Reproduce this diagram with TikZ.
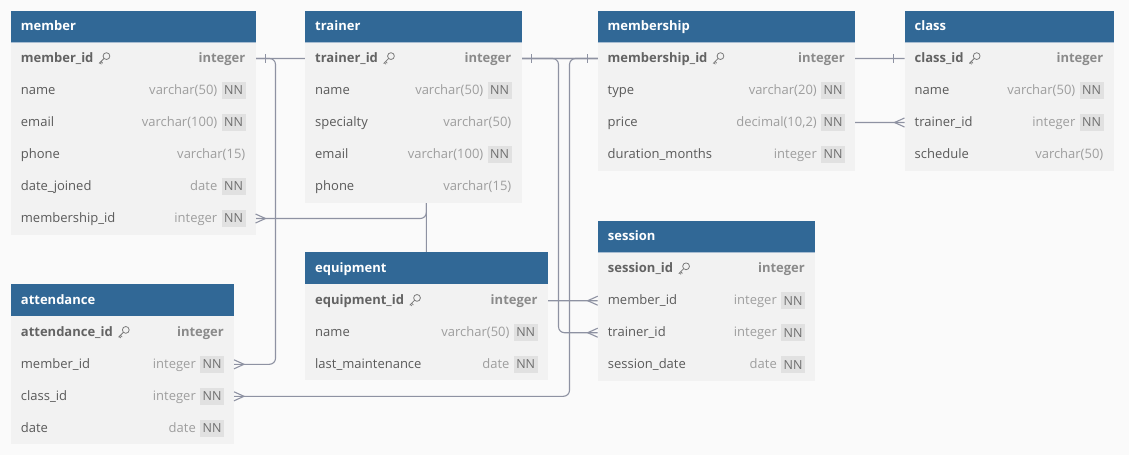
\documentclass[tikz,border=0pt]{standalone}
\usepackage{fontspec}
\setmainfont{Open Sans}
\usetikzlibrary{calc}
\definecolor{bgc}{HTML}{FAFAFA}
\definecolor{hdrc}{HTML}{316896}
\definecolor{hdrline}{HTML}{A8BDD2}
\definecolor{bodyc}{HTML}{F2F2F2}
\definecolor{fieldc}{HTML}{5A5A5A}
\definecolor{pkc}{HTML}{636363}
\definecolor{typec}{HTML}{9E9E9E}
\definecolor{pktypec}{HTML}{8A8A8A}
\definecolor{badgec}{HTML}{E1E1E1}
\definecolor{badgetxt}{HTML}{6E6E6E}
\definecolor{linec}{HTML}{8E92A2}
\definecolor{keyc}{HTML}{7A7A7A}
\pgfdeclarelayer{back}
\pgfdeclarelayer{connlayer}
\pgfsetlayers{back,connlayer,main}
\tikzset{
 hdr/.style={fill=hdrc, minimum height=32pt, inner sep=0pt, outer sep=0pt, rectangle},
 rowbox/.style={fill=bodyc, minimum height=32pt, inner sep=0pt, outer sep=0pt, rectangle},
 hdrtxt/.style={text=white, font=\fontsize{13}{15}\selectfont\bfseries, inner sep=0pt},
 fieldtxt/.style={text=fieldc, font=\fontsize{13}{15}\selectfont, inner sep=0pt},
 pktxt/.style={text=pkc, font=\fontsize{13}{15}\selectfont\bfseries, inner sep=0pt},
 typetxt/.style={text=typec, font=\fontsize{13}{15}\selectfont, inner sep=0pt},
 pktypetxt/.style={text=pktypec, font=\fontsize{13}{15}\selectfont\bfseries, inner sep=0pt},
 badge/.style={fill=badgec, text=badgetxt, minimum width=24pt, minimum height=17pt, inner sep=0pt, font=\fontsize{12.5}{14}\selectfont},
 conn/.style={draw=linec, line width=1.1pt, rounded corners=6pt},
 markstroke/.style={draw=linec, line width=1.1pt},
 keyicon/.style={draw=keyc, line width=0.8pt, line cap=round, line join=round},
}
\newcommand\erhead[5]{%
  \xdef\ertname{#1}\xdef\ertx{#2}\xdef\erty{#3}\xdef\ertw{#4}%
  \node[hdr, minimum width=#4pt, anchor=north west] (#1-h) at (#2,#3) {};
  \draw[hdrline, line width=0.8pt] (#1-h.south west) -- (#1-h.south east);
  \node[hdrtxt, anchor=base west] at ([xshift=10pt,yshift=-3.8pt]#1-h.west) {#5};
}
\newcommand\erkeyat[1]{%
  \begin{scope}[shift={(#1)}]
    \draw[keyicon] (12.8,-2.4) circle[radius=3.4pt];
    \draw[keyicon] (10.4,0.0) -- (5.6,4.8) (7.4,3.0) -- (9.0,4.6) (6.2,4.2) -- (7.6,5.6);
  \end{scope}%
}
\newcommand\errow[5]{% idx, field, type, nn, pk
  \pgfmathsetmacro\erowy{\erty+32+32*(#1-1)}%
  \node[rowbox, minimum width=\ertw pt, anchor=north west] (\ertname-#1) at (\ertx,\erowy) {};
  \ifnum#5=1
    \node[pktxt, anchor=base west] (\ertname-#1-f) at ([xshift=10pt,yshift=-4pt]\ertname-#1.west) {#2};
    \coordinate (\ertname-#1-k) at (\ertname-#1-f.east |- \ertname-#1.center);
    \erkeyat{\ertname-#1-k}
    \node[pktypetxt, anchor=base east] at ([xshift=-10pt,yshift=-4pt]\ertname-#1.east) {#3};
  \else
    \node[fieldtxt, anchor=base west] (\ertname-#1-f) at ([xshift=10pt,yshift=-4pt]\ertname-#1.west) {#2};
    \ifnum#4=1
      \node[badge] (\ertname-#1-nn) at ([xshift=-22pt]\ertname-#1.east) {NN};
      \node[typetxt, anchor=base east] at ([xshift=-38pt,yshift=-4pt]\ertname-#1.east) {#3};
    \else
      \node[typetxt, anchor=base east] at ([xshift=-10pt,yshift=-4pt]\ertname-#1.east) {#3};
    \fi
  \fi
}
\newcommand\erbar[2]{\draw[markstroke] ([xshift=#2*10pt, yshift=4.5pt]#1) -- ([xshift=#2*10pt, yshift=-4.5pt]#1);}
\newcommand\ercrow[2]{\draw[markstroke] ([yshift=4.5pt]#1) -- ([xshift=#2*10pt]#1) -- ([yshift=-4.5pt]#1);}
\begin{document}
\begin{tikzpicture}[x=1pt,y=-1pt]
\useasboundingbox (0,0) rectangle (1129,455);
\begin{pgfonlayer}{back}
\fill[bgc] (0,0) rectangle (1129,455);
\end{pgfonlayer}
% member
\erhead{member}{10.7}{10.5}{244.8}{member}
\errow{1}{member\_id}{integer}{0}{1}
\errow{2}{name}{varchar(50)}{1}{0}
\errow{3}{email}{varchar(100)}{1}{0}
\errow{4}{phone}{varchar(15)}{0}{0}
\errow{5}{date\_joined}{date}{1}{0}
\errow{6}{membership\_id}{integer}{1}{0}
% trainer
\erhead{trainer}{305}{10.5}{216.5}{trainer}
\errow{1}{trainer\_id}{integer}{0}{1}
\errow{2}{name}{varchar(50)}{1}{0}
\errow{3}{specialty}{varchar(50)}{0}{0}
\errow{4}{email}{varchar(100)}{1}{0}
\errow{5}{phone}{varchar(15)}{0}{0}
% membership
\erhead{membership}{597.5}{10.5}{257.5}{membership}
\errow{1}{membership\_id}{integer}{0}{1}
\errow{2}{type}{varchar(20)}{1}{0}
\errow{3}{price}{decimal(10,2)}{1}{0}
\errow{4}{duration\_months}{integer}{1}{0}
% class
\erhead{class}{904.5}{10.5}{209}{class}
\errow{1}{class\_id}{integer}{0}{1}
\errow{2}{name}{varchar(50)}{1}{0}
\errow{3}{trainer\_id}{integer}{1}{0}
\errow{4}{schedule}{varchar(50)}{0}{0}
% attendance
\erhead{attendance}{10.7}{284.3}{223.3}{attendance}
\errow{1}{attendance\_id}{integer}{0}{1}
\errow{2}{member\_id}{integer}{1}{0}
\errow{3}{class\_id}{integer}{1}{0}
\errow{4}{date}{date}{1}{0}
% equipment
\erhead{equipment}{305}{252.3}{242.7}{equipment}
\errow{1}{equipment\_id}{integer}{0}{1}
\errow{2}{name}{varchar(50)}{1}{0}
\errow{3}{last\_maintenance}{date}{1}{0}
% session
\erhead{session}{597.7}{220.7}{217.3}{session}
\errow{1}{session\_id}{integer}{0}{1}
\errow{2}{member\_id}{integer}{1}{0}
\errow{3}{trainer\_id}{integer}{1}{0}
\errow{4}{session\_date}{date}{1}{0}
% connectors
\begin{pgfonlayer}{connlayer}
\draw[conn] (member-1.east) -- ++(20,0) |- (attendance-2.east);
\draw[conn] (member-1.east) -| (equipment-h.center) |- (session-2.west);
\draw[conn] (member-6.east) -| (equipment-h.center |- membership-1.west) -- (membership-1.west);
\draw[conn] (trainer-1.east) -- ++(37,0) |- (session-3.west);
\draw[conn] (class-1.west) -- ++(-335,0) |- (attendance-3.east);
\draw[conn] (class-3.west) -| (membership-1.center) -- (trainer-1.east);
\end{pgfonlayer}
% markers
\erbar{member-1.east}{1}
\ercrow{attendance-2.east}{1}
\ercrow{session-2.west}{-1}
\ercrow{member-6.east}{1}
\erbar{membership-1.west}{-1}
\erbar{trainer-1.east}{1}
\ercrow{session-3.west}{-1}
\ercrow{attendance-3.east}{1}
\erbar{class-1.west}{-1.1}
\ercrow{class-3.west}{-1}
\end{tikzpicture}
\end{document}
